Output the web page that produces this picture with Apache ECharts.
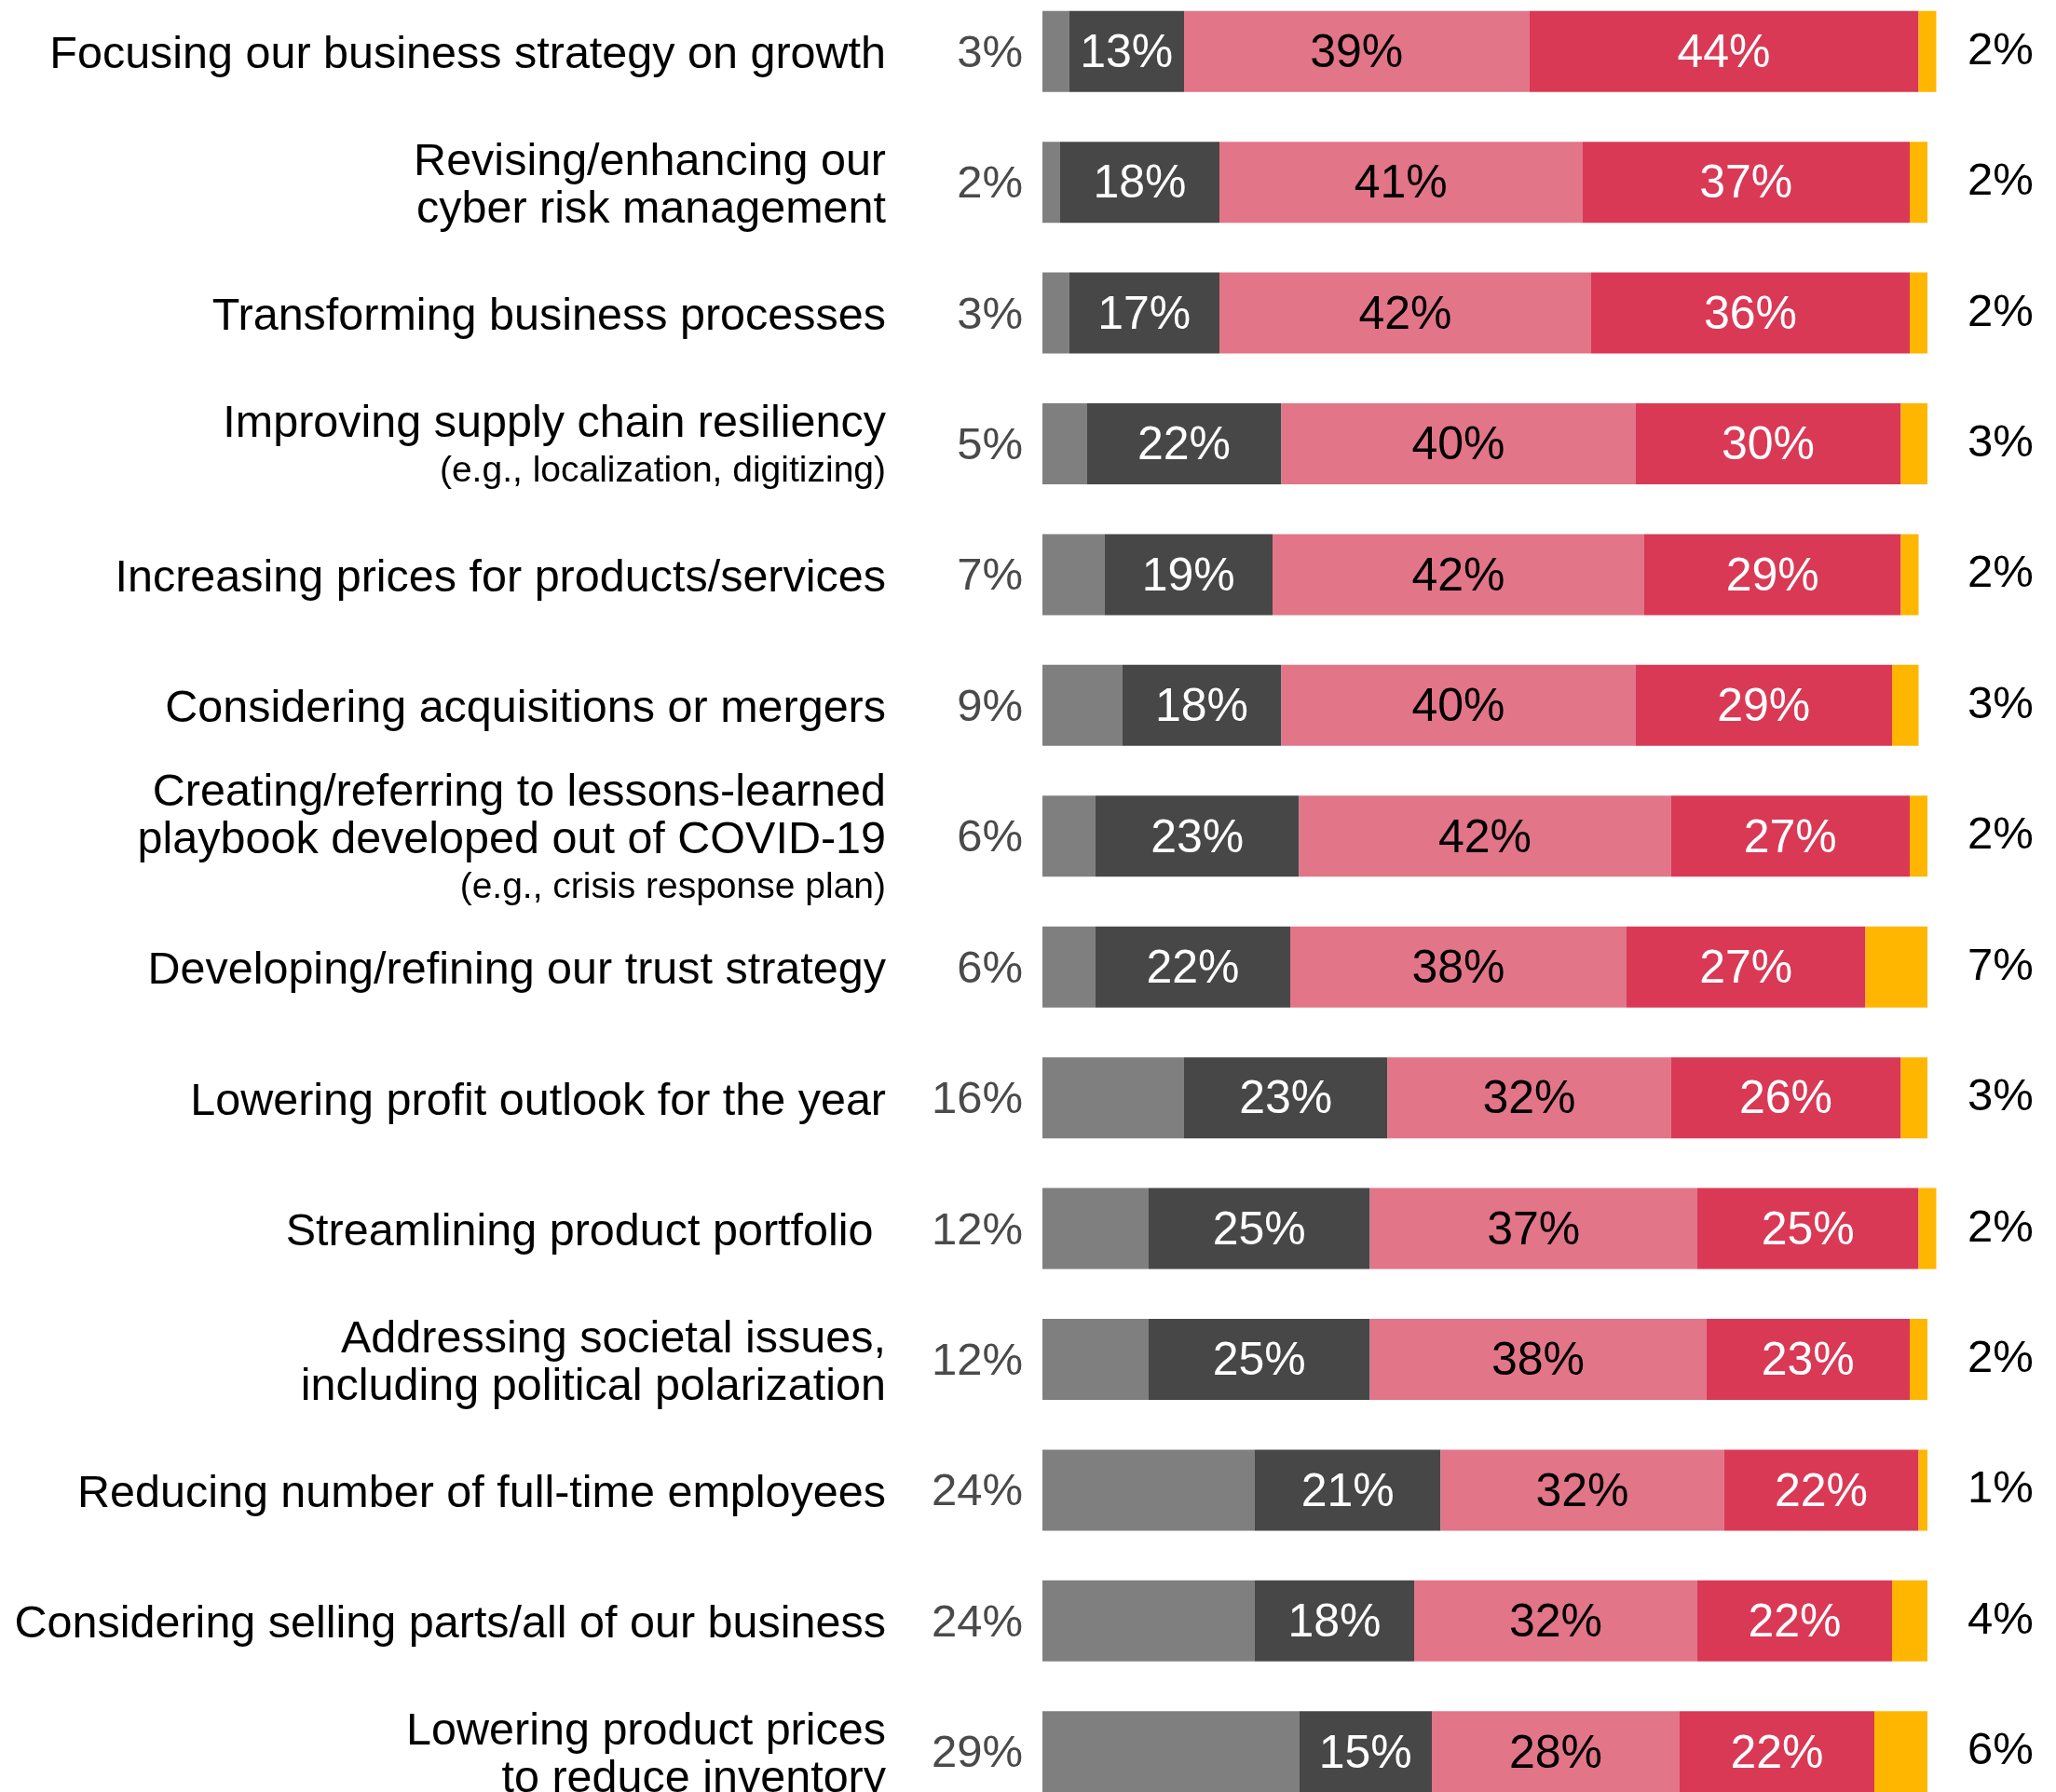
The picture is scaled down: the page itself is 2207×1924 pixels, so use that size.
<!DOCTYPE html>
<html lang="en">
<head>
    <meta charset="UTF-8">
    <title>Actions being taken</title>
    <style>
        * { margin: 0; padding: 0; }
        html, body { background: #ffffff; }
        #chart-container { width: 2207px; height: 1924px; }
    </style>
</head>
<body>
    <div id="chart-container"></div>
    <script src="https://cdn.jsdelivr.net/npm/echarts@6/dist/echarts.min.js"></script>
    <script>
        // row labels (main text, \n = line break) and the small note under some of them
        var categories = [
            'Focusing our business strategy on growth',
            'Revising/enhancing our\ncyber risk management',
            'Transforming business processes',
            'Improving supply chain resiliency',
            'Increasing prices for products/services',
            'Considering acquisitions or mergers',
            'Creating/referring to lessons-learned\nplaybook developed out of COVID-19',
            'Developing/refining our trust strategy',
            'Lowering profit outlook for the year',
            'Streamlining product portfolio ',
            'Addressing societal issues,\nincluding political polarization',
            'Reducing number of full-time employees',
            'Considering selling parts/all of our business',
            'Lowering product prices\nto reduce inventory'
        ];
        var notes = ['', '', '', '(e.g., localization, digitizing)', '', '',
            '(e.g., crisis response plan)', '', '', '', '', '', '', ''];

        // shares in %, one value per row
        var grayVals   = [3, 2, 3, 5, 7, 9, 6, 6, 16, 12, 12, 24, 24, 29];
        var darkVals   = [13, 18, 17, 22, 19, 18, 23, 22, 23, 25, 25, 21, 18, 15];
        var pinkVals   = [39, 41, 42, 40, 42, 40, 42, 38, 32, 37, 38, 32, 32, 28];
        var redVals    = [44, 37, 36, 30, 29, 29, 27, 27, 26, 25, 23, 22, 22, 22];
        var yellowVals = [2, 2, 2, 3, 2, 3, 2, 7, 3, 2, 2, 1, 4, 6];

        var FONT = '"Liberation Sans", Arial, Helvetica, sans-serif';

        var dom = document.getElementById('chart-container');
        var myChart = echarts.init(dom, null, { renderer: 'canvas' });

        function segment(name, vals, color, textColor, showInside) {
            return {
                name: name,
                type: 'bar',
                stack: 'total',
                barWidth: 87,
                data: vals,
                itemStyle: { color: color },
                label: {
                    show: showInside,
                    position: 'inside',
                    offset: [0, 3],
                    color: textColor,
                    fontFamily: FONT,
                    fontSize: 50,
                    formatter: '{c}%'
                },
                emphasis: { disabled: true }
            };
        }

        var grayLeft = segment('gray', grayVals, '#7f7f7f', '#4a4a4a', true);
        grayLeft.label.position = 'left';
        grayLeft.label.distance = 21;
        grayLeft.label.fontSize = 49;

        var option = {
            animation: false,
            backgroundColor: '#ffffff',
            grid: {
                left: 1119, top: -15, width: 988, height: 1966,
                containLabel: false,
                outerBoundsMode: 'none'
            },
            xAxis: {
                type: 'value',
                min: 0,
                max: 104,
                show: false
            },
            yAxis: [
                {
                    type: 'category',
                    inverse: true,
                    data: categories,
                    axisLine: { show: false },
                    axisTick: { show: false },
                    axisLabel: {
                        margin: 168,
                        align: 'right',
                        padding: [9, 0, 0, 0],
                        formatter: function (value, idx) {
                            var lines = value.split('\n').map(function (l) { return '{a|' + l + '}'; });
                            if (notes[idx]) lines.push('{b|' + notes[idx] + '}');
                            return lines.join('\n');
                        },
                        rich: {
                            a: { fontFamily: FONT, fontSize: 48.5, lineHeight: 51, color: '#000000', align: 'right' },
                            b: { fontFamily: FONT, fontSize: 39, lineHeight: 50, color: '#000000', align: 'right' }
                        }
                    }
                },
                {
                    type: 'category',
                    inverse: true,
                    position: 'right',
                    data: categories,
                    axisLine: { show: false },
                    axisTick: { show: false },
                    axisLabel: {
                        margin: 5,
                        align: 'left',
                        padding: [6, 0, 0, 0],
                        fontFamily: FONT,
                        fontSize: 49,
                        color: '#000000',
                        formatter: function (value, idx) { return yellowVals[idx] + '%'; }
                    }
                }
            ],
            series: [
                grayLeft,
                segment('dark', darkVals, '#474747', '#ffffff', true),
                segment('pink', pinkVals, '#e27588', '#000000', true),
                segment('red', redVals, '#d93955', '#ffffff', true),
                segment('yellow', yellowVals, '#ffb600', '#000000', false)
            ]
        };

        myChart.setOption(option);
        window.addEventListener('resize', myChart.resize);
    </script>
</body>
</html>
